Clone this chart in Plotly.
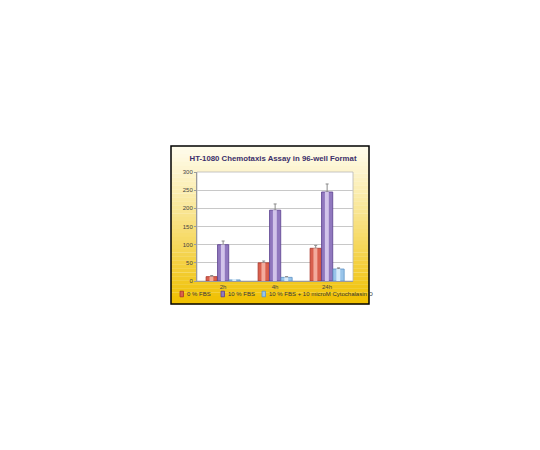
import plotly.graph_objects as go

# data
times = ["2h", "4h", "24h"]
fbs0 = [12, 50, 90]
fbs0_err = [3, 5, 8]
fbs10 = [100, 195, 245]
fbs10_err = [10, 17, 22]
cyto = [3, 10, 33]
cyto_err = [1, 2, 3]
names = ["0 % FBS", "10 % FBS", "10 % FBS + 10 microM Cytochalasin D"]

fills = ["#d9604e", "#9078be", "#98c4ea"]
lights = ["#f3ab9c", "#d2c4ea", "#d6ebfa"]
edges = ["#a8352a", "#5b3f8e", "#5d93c6"]
offsets = [-0.325, -0.105, 0.115]
bw = 0.215

# the page body has an 8px margin, so every pixel position is shifted by it
OFF = 8
W, H = 530, 440
L, R, T, B = 197 - OFF, 353 - OFF, 172 - OFF, 281 - OFF


def px(x):
    return (x - OFF - L) / (R - L)


def py(y):
    return (B - (y - OFF)) / (B - T)


fig = go.Figure()
for vals, err, name, fc, lc, ec, off in zip([fbs0, fbs10, cyto], [fbs0_err, fbs10_err, cyto_err],
                                            names, fills, lights, edges, offsets):
    fig.add_trace(go.Bar(
        x=times, y=vals, name=name, width=bw, offset=off,
        marker=dict(color=fc, line=dict(color=ec, width=0.8)),
        error_y=dict(type="data", array=err, arrayminus=[0] * len(err), symmetric=False,
                     color="#8a8a8a", thickness=1, width=1.5),
        showlegend=False,
    ))
    # lighter stripe for the rounded 3D look
    fig.add_trace(go.Bar(
        x=times, y=vals, width=bw * 0.35, offset=off + bw * 0.3,
        marker=dict(color=lc, line=dict(width=0)),
        showlegend=False, hoverinfo="skip",
    ))

# gradient background of the frame (white to gold)
shapes = []
fx0, fx1, fy0, fy1 = 171, 369, 146, 304
n = 40
for i in range(n):
    t = i / (n - 1)
    k = t ** 1.1
    r = int(255 + (240 - 255) * k)
    g = int(252 + (192 - 252) * k)
    b = int(235 + (0 - 235) * k)
    ya = fy0 + (fy1 - fy0) * i / n
    yb = fy0 + (fy1 - fy0) * (i + 1) / n
    shapes.append(dict(type="rect", xref="paper", yref="paper", layer="below",
                       x0=px(fx0), x1=px(fx1), y0=py(ya), y1=py(yb) - 0.002,
                       fillcolor=f"rgb({r},{g},{b})", line=dict(width=0)))
# white plot area
shapes.append(dict(type="rect", xref="paper", yref="paper", layer="below",
                   x0=0, x1=1, y0=0, y1=1, fillcolor="white", line=dict(color="#b8b8b8", width=0.8)))
# frame border
shapes.append(dict(type="rect", xref="paper", yref="paper", layer="above",
                   x0=px(fx0), x1=px(fx1), y0=py(fy0), y1=py(fy1),
                   fillcolor="rgba(0,0,0,0)", line=dict(color="black", width=1.5)))

# hand-made legend
annotations = []
leg_x = [180, 221, 262]
leg_y = 294
for lx, name, fc, ec in zip(leg_x, names, fills, edges):
    shapes.append(dict(type="rect", xref="paper", yref="paper", layer="above",
                       x0=px(lx), x1=px(lx + 3.5), y0=py(leg_y + 2.8), y1=py(leg_y - 2.8),
                       fillcolor=fc, line=dict(color=ec, width=0.8)))
    annotations.append(dict(x=px(lx + 5), y=py(leg_y), xref="paper", yref="paper",
                            text=name, showarrow=False, xanchor="left", yanchor="middle",
                            font=dict(size=6, color="#333333")))

fig.update_layout(
    width=W, height=H,
    margin=dict(l=L, r=W - R, t=T, b=H - B, pad=0),
    paper_bgcolor="white", plot_bgcolor="rgba(0,0,0,0)",
    font=dict(family="Liberation Sans, Arial, sans-serif", size=6, color="#444444"),
    title=dict(text="<b>HT-1080 Chemotaxis Assay in 96-well Format</b>",
               x=(273 - OFF) / W, xanchor="center", y=1 - (158 - OFF) / H, yanchor="middle",
               font=dict(size=7.8, color="#3b2f6b")),
    barmode="overlay",
    xaxis=dict(showgrid=False, ticks="", showline=True, linecolor="#9a9a9a", linewidth=1,
               range=[-0.5, 2.5], tickfont=dict(size=6, color="#444444")),
    yaxis=dict(range=[0, 300], dtick=50, showgrid=True, gridcolor="#c8c8c8", gridwidth=0.8,
               showline=True, linecolor="#9a9a9a", linewidth=1, zeroline=False,
               ticks="outside", ticklen=2, tickcolor="#9a9a9a",
               tickfont=dict(size=6, color="#444444")),
    shapes=shapes, annotations=annotations,
)

fig.write_html("out.html")
